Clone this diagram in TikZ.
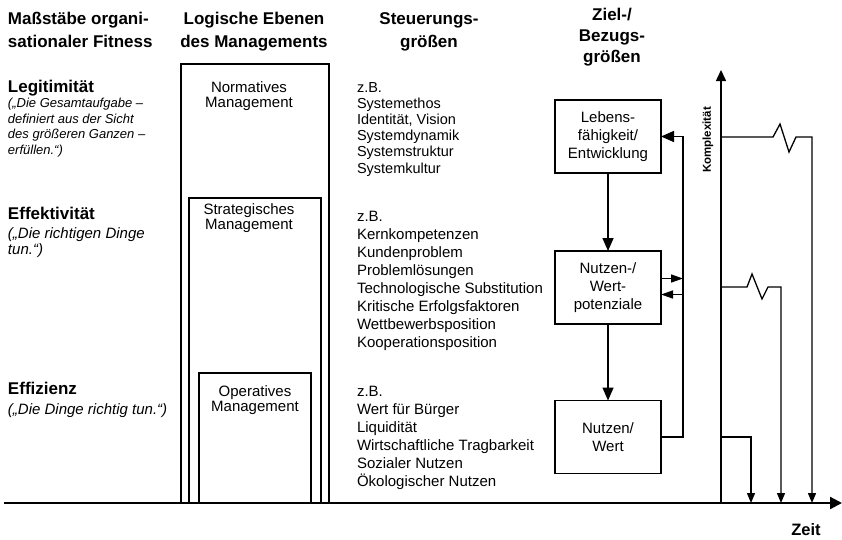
\documentclass[tikz,border=0pt]{standalone}
\usepackage{fontspec}
\setmainfont{Liberation Sans}
\usetikzlibrary{arrows.meta}
\begin{document}
\begin{tikzpicture}[x=1pt,y=-1pt,
  every node/.style={inner sep=0pt, outer sep=0pt},
  colhead/.style={font=\fontsize{17}{23}\selectfont\bfseries, align=center, anchor=north},
  levelhead/.style={font=\fontsize{17}{20}\selectfont\bfseries, anchor=base west},
  quote/.style={font=\fontsize{15}{16}\selectfont\itshape, align=left, anchor=north west},
  itemlist/.style={font=\fontsize{15}{18}\selectfont, align=left, anchor=north west},
  lvlbox/.style={draw, line width=1.6pt},
  lvllabel/.style={font=\fontsize{15}{15.5}\selectfont, align=center, anchor=north},
  goalbox/.style={draw, line width=1.8pt, minimum width=106pt, minimum height=73pt,
    font=\fontsize{15}{18}\selectfont, align=center},
  flow/.style={line width=1.5pt, -{Triangle[length=13pt,width=11pt]}},
  feed/.style={line width=1.5pt, -{Triangle[length=12pt,width=8pt]}},
  axis/.style={line width=2.2pt, -{Triangle[length=12pt,width=12pt]}},
  vaxis/.style={line width=1.5pt, -{Triangle[length=11pt,width=10pt]}},
  stepline/.style={line width=1.3pt, -{Triangle[length=10pt,width=8pt]}}
]
\useasboundingbox (0,0) rectangle (842,539);

% column headings
\node[colhead, anchor=north west, align=left] (h1) at (8,8) {\strut Maßstäbe organi-\\sationaler Fitness};
\node[colhead] (h2) at (254,8) {\strut Logische Ebenen\\des Managements};
\node[colhead] (h3) at (429,8) {\strut Steuerungs-\\größen};
\node[colhead, font=\fontsize{17}{21}\selectfont\bfseries] (h4) at (612,5.4) {\strut Ziel-/\\Bezugs-\\größen};

% measures of organisational fitness
\node[levelhead] (legi) at (8,92) {Legitimität};
\node[quote, font=\fontsize{13}{15.5}\selectfont\itshape] (legiq) at (8,96.8) {\strut(„Die Gesamtaufgabe –\\definiert aus der Sicht\\des größeren Ganzen –\\erfüllen.“)};
\node[levelhead] (effk) at (8,219) {Effektivität};
\node[quote] (effkq) at (8,227.2) {\strut(„Die richtigen Dinge\\tun.“)};
\node[levelhead] (effz) at (8,394.5) {Effizienz};
\node[quote] (effzq) at (8,403.2) {\strut(„Die Dinge richtig tun.“)};

% nested management levels
\node[lvlbox, minimum width=148pt, minimum height=439pt] (norm) at (255,283.5) {};
\node[lvlbox, minimum width=132pt, minimum height=305pt] (strat) at (255,350.5) {};
\node[lvlbox, minimum width=112pt, minimum height=130pt] (oper) at (255,438) {};
\node[lvllabel] (normt) at (249,81.5) {\strut Normatives\\Management};
\node[lvllabel] (stratt) at (249,203.5) {\strut Strategisches\\Management};
\node[lvllabel] (opert) at (255,385.5) {\strut Operatives\\Management};

% control variables
\node[itemlist, font=\fontsize{14.5}{16.2}\selectfont] (l1) at (357,80.8) {\strut z.B.\\Systemethos\\Identität, Vision\\Systemdynamik\\Systemstruktur\\Systemkultur};
\node[itemlist] (l2) at (357,208.8) {\strut z.B.\\Kernkompetenzen\\Kundenproblem\\Problemlösungen\\Technologische Substitution\\Kritische Erfolgsfaktoren\\Wettbewerbsposition\\Kooperationsposition};
\node[itemlist] (l3) at (357,383.8) {\strut z.B.\\Wert für Bürger\\Liquidität\\Wirtschaftliche Tragbarkeit\\Sozialer Nutzen\\Ökologischer Nutzen};

% target variables
\node[goalbox] (leb) at (608,136.5) {Lebens-\\fähigkeit/\\Entwicklung};
\node[goalbox] (pot) at (608,287.5) {Nutzen-/\\Wert-\\potenziale};
\node[goalbox] (wert) at (608,437) {Nutzen/\\Wert};

\draw[flow] (leb.south) -- (pot.north);
\draw[flow] (pot.south) -- (wert.north);

% feedback loop
\coordinate (fb) at (683,0);
\draw[feed, -{Triangle[length=13pt,width=11pt]}] (wert.east) -- (wert.east -| fb) -- (leb.east -| fb) -- (leb.east);
\draw[feed] ([yshift=9pt]pot.east) -- ([yshift=9pt]pot.east -| fb);
\draw[feed] ([yshift=-7pt]pot.east -| fb) -- ([yshift=-7pt]pot.east);

% axes
\coordinate (xl) at (4,503);
\coordinate (xr) at (842,503);
\coordinate (yb) at (721,503);
\coordinate (yt) at (721,70);
\draw[axis] (xl) -- (xr);
\draw[vaxis] (yb) -- (yt);
\node[font=\fontsize{16.5}{18}\selectfont\bfseries] (zeit) at (806,530) {Zeit};
\node[font=\fontsize{11.5}{14}\selectfont\bfseries, rotate=90] (kompl) at (708,140) {Komplexität};

% complexity steps over time
\coordinate (s1) at (721,137);
\coordinate (s2) at (721,287);
\coordinate (s3) at (721,437);
\draw[stepline] (s1) -- ++(52,0) -- ++(7,-13) -- ++(9,28) -- ++(7,-15) -- (812,137) -- (812,503);
\draw[stepline] (s2) -- ++(26,0) -- ++(5,-13) -- ++(10,25) -- ++(6,-12) -- (781,287) -- (781,503);
\draw[stepline] (s3) -- (751,437) -- (751,503);
\end{tikzpicture}
\end{document}
